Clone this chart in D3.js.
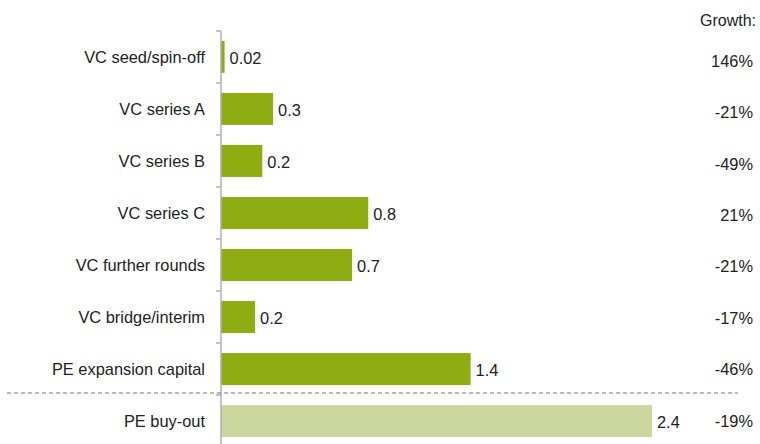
<!DOCTYPE html>
<html>
<head>
<meta charset="utf-8">
<script src="https://cdn.jsdelivr.net/npm/d3@7"></script>
<style>
  body { margin: 0; background: #fff; }
  text { font-family: "Liberation Sans", Arial, sans-serif; fill: #222; }
</style>
</head>
<body>
<div id="chart"></div>
<script>
// categories, bar values, shown labels, growth column
var categories = ["VC seed/spin-off", "VC series A", "VC series B", "VC series C",
                  "VC further rounds", "VC bridge/interim", "PE expansion capital", "PE buy-out"];
var values = [0.02, 0.29, 0.23, 0.82, 0.73, 0.19, 1.39, 2.40];
var valueLabels = ["0.02", "0.3", "0.2", "0.8", "0.7", "0.2", "1.4", "2.4"];
var growth = ["146%", "-21%", "-49%", "21%", "-21%", "-17%", "-46%", "-19%"];

var width = 760, height = 444;
var axisX = 221, top0 = 31, step = 52;

var svg = d3.select("#chart").append("svg")
    .attr("width", width)
    .attr("height", height);

var y = d3.scaleBand()
    .domain(categories)
    .range([top0, top0 + step * categories.length])
    .paddingInner(0.385)
    .paddingOuter(0.19);

// growth column sits on its own, slightly tighter spacing
var yg = d3.scalePoint()
    .domain(categories)
    .range([61, 421]);

var x = d3.scaleLinear()
    .domain([0, 2.4])
    .range([axisX, axisX + 431]);

// bars
svg.selectAll(".bar")
    .data(categories)
    .enter().append("rect")
    .attr("class", "bar")
    .attr("x", x(0))
    .attr("y", function(d) { return y(d); })
    .attr("height", y.bandwidth())
    .attr("width", function(d, i) { return x(values[i]) - x(0); })
    .attr("fill", function(d, i) { return i == categories.length - 1 ? "#ccd7a0" : "#8fac13"; });

// axis line with ticks at band boundaries
var bounds = d3.range(categories.length + 1).map(function(i) { return top0 + i * step; });
svg.append("line")
    .attr("x1", axisX).attr("x2", axisX)
    .attr("y1", top0).attr("y2", height)
    .style("stroke", "#b0b0b0")
    .style("stroke-width", 1.5);
svg.selectAll(".tick")
    .data(bounds)
    .enter().append("line")
    .attr("x1", axisX - 5).attr("x2", axisX)
    .attr("y1", function(d) { return d; })
    .attr("y2", function(d) { return d; })
    .style("stroke", "#b0b0b0")
    .style("stroke-width", 1.5);

// dashed separator
svg.append("line")
    .attr("x1", 7).attr("x2", 738)
    .attr("y1", bounds[7] - 2).attr("y2", bounds[7] - 2)
    .style("stroke", "#777")
    .style("stroke-dasharray", "4,3");

// category labels
svg.selectAll(".cat")
    .data(categories)
    .enter().append("text")
    .attr("x", 205)
    .attr("y", function(d) { return y(d) + y.bandwidth() / 2; })
    .attr("dy", "0.35em")
    .style("text-anchor", "end")
    .style("font-size", "16.4px")
    .text(function(d) { return d; });

// value labels
svg.selectAll(".val")
    .data(categories)
    .enter().append("text")
    .attr("x", function(d, i) { return x(values[i]) + 5; })
    .attr("y", function(d) { return y(d) + y.bandwidth() / 2 + 1; })
    .attr("dy", "0.35em")
    .style("font-size", "16.4px")
    .text(function(d, i) { return valueLabels[i]; });

// growth column
svg.append("text")
    .attr("x", 756)
    .attr("y", 20)
    .attr("dy", "0.35em")
    .style("text-anchor", "end")
    .style("font-size", "16px")
    .text("Growth:");

svg.selectAll(".growth")
    .data(categories)
    .enter().append("text")
    .attr("x", 753)
    .attr("y", function(d) { return yg(d); })
    .attr("dy", "0.35em")
    .style("text-anchor", "end")
    .style("font-size", "16.4px")
    .text(function(d, i) { return growth[i]; });
</script>
</body>
</html>
